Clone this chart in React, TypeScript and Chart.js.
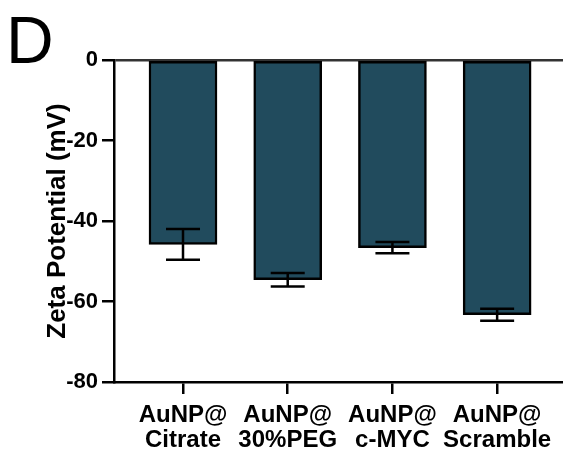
import React, { useEffect, useRef } from 'react';
import { Chart, registerables } from 'chart.js';

Chart.register(...registerables);

const CATEGORIES: string[][] = [
  ['AuNP@', 'Citrate'],
  ['AuNP@', '30%PEG'],
  ['AuNP@', 'c-MYC'],
  ['AuNP@', 'Scramble'],
];
const MEANS: number[] = [-45.8, -54.6, -46.6, -63.3];
const ERRORS: number[] = [3.8, 1.7, 1.4, 1.5];
const Y_TICKS: number[] = [0, -20, -40, -60, -80];
const Y_TITLE = 'Zeta Potential (mV)';
const PANEL_LABEL = 'D';

const FONT = '"Liberation Sans", Arial, sans-serif';
const BAR_COLOR = '#214b5d';

const errorBarPlugin = {
  id: 'errorBars',
  afterDatasetsDraw(chart: any) {
    const meta = chart.getDatasetMeta(0);
    const y = chart.scales.y;
    const ctx = chart.ctx;
    ctx.save();
    ctx.strokeStyle = '#000';
    ctx.lineWidth = 2.5;
    meta.data.forEach((bar: any, i: number) => {
      const x = bar.x;
      const hi = y.getPixelForValue(MEANS[i] + ERRORS[i]);
      const lo = y.getPixelForValue(MEANS[i] - ERRORS[i]);
      const cap = 17;
      ctx.beginPath();
      ctx.moveTo(x, hi);
      ctx.lineTo(x, lo);
      ctx.moveTo(x - cap, hi);
      ctx.lineTo(x + cap, hi);
      ctx.moveTo(x - cap, lo);
      ctx.lineTo(x + cap, lo);
      ctx.stroke();
    });
    ctx.restore();
  },
};

const panelLabelPlugin = {
  id: 'panelLabel',
  afterDraw(chart: any) {
    const ctx = chart.ctx;
    ctx.save();
    ctx.fillStyle = '#000';
    ctx.font = `66px ${FONT}`;
    ctx.textAlign = 'left';
    ctx.textBaseline = 'alphabetic';
    ctx.fillText(PANEL_LABEL, 6, 63);
    ctx.restore();
  },
};

export default function App() {
  const ref = useRef<HTMLCanvasElement | null>(null);

  useEffect(() => {
    document.body.style.margin = '0';
    if (!ref.current) return;
    const chart = new Chart(ref.current, {
      type: 'bar',
      data: {
        datasets: [
          {
            data: MEANS.map((v, i) => ({ x: i, y: v })),
            backgroundColor: BAR_COLOR,
            borderColor: '#000',
            borderWidth: 2.5,
            borderSkipped: false,
            barThickness: 68,
          },
        ],
      },
      options: {
        animation: false,
        responsive: true,
        maintainAspectRatio: false,
        layout: { padding: { top: 60, left: 0, right: 0, bottom: 0 } },
        plugins: {
          legend: { display: false },
          tooltip: { enabled: false },
        },
        scales: {
          x: {
            type: 'linear',
            position: 'bottom',
            offset: false,
            min: -0.659,
            max: 3.629,
            afterBuildTicks: (scale: any) => {
              scale.ticks = CATEGORIES.map((_, i) => ({ value: i }));
            },
            afterFit: (scale: any) => {
              scale.height = 71;
            },
            ticks: {
              autoSkip: false,
              maxRotation: 0,
              minRotation: 0,
              padding: 9,
              color: '#000',
              font: { family: FONT, size: 24, weight: 'bold', lineHeight: 1.04 },
              callback: (value: any) => CATEGORIES[Math.round(Number(value))] ?? '',
            },
            grid: {
              display: true,
              offset: false,
              drawOnChartArea: false,
              drawTicks: true,
              tickLength: 12,
              tickColor: '#000',
              tickWidth: 2.5,
              lineWidth: 2.5,
              color: '#000',
            },
            border: { display: true, color: '#000', width: 2.5 },
          },
          y: {
            type: 'linear',
            min: -80,
            max: 0,
            afterBuildTicks: (scale: any) => {
              scale.ticks = Y_TICKS.map((v) => ({ value: v }));
            },
            afterFit: (scale: any) => {
              scale.width = 114;
            },
            ticks: {
              padding: 4,
              color: '#000',
              font: { family: FONT, size: 22, weight: 'bold' },
            },
            grid: {
              display: true,
              drawOnChartArea: true,
              drawTicks: true,
              tickLength: 12,
              tickColor: '#000',
              tickWidth: 2.5,
              lineWidth: 2.5,
              color: (ctx: any) => (ctx.tick && ctx.tick.value === 0 ? '#333' : 'rgba(0,0,0,0)'),
            },
            border: { display: true, color: '#000', width: 2.5 },
            title: {
              display: true,
              text: Y_TITLE,
              color: '#000',
              font: { family: FONT, size: 26, weight: 'bold', lineHeight: 1.2 },
              padding: { top: 42, bottom: 0 },
            },
          },
        },
      },
      plugins: [errorBarPlugin, panelLabelPlugin],
    } as any);
    return () => chart.destroy();
  }, []);

  return (
    <div style={{ position: 'relative', width: 563, height: 453 }}>
      <canvas ref={ref} />
    </div>
  );
}
